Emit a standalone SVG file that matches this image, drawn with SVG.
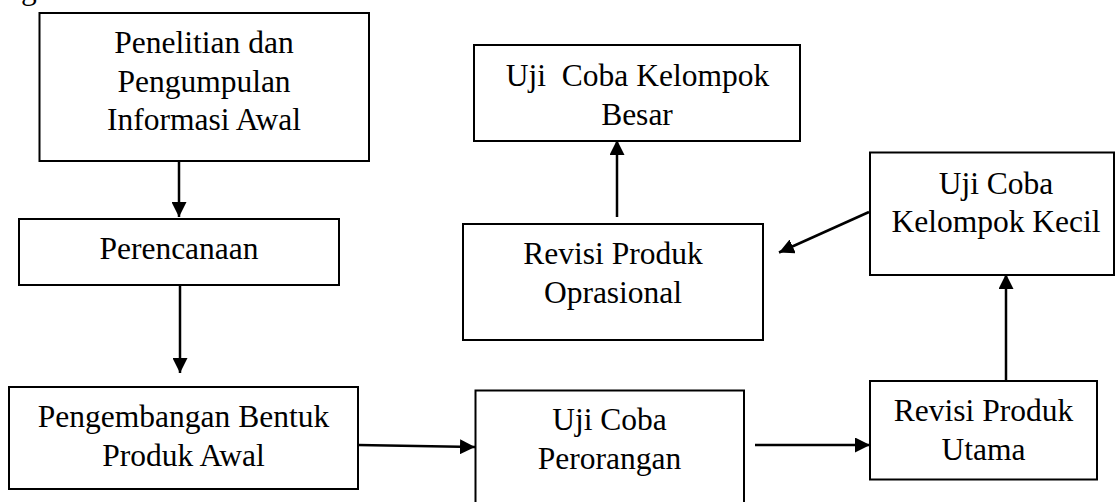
<svg xmlns="http://www.w3.org/2000/svg" width="1116" height="502" viewBox="0 0 1116 502">
<style>
  .box { fill: #ffffff; stroke: #000000; stroke-width: 2; }
  .lbl { font-family: "Liberation Serif", "Times New Roman", serif; font-size: 31.5px; fill: #000000; text-anchor: middle; }
  .frag { font-family: "Liberation Serif", "Times New Roman", serif; font-size: 31.5px; fill: #000000; }
  .conn { fill: none; stroke: #000000; stroke-width: 2.5; marker-end: url(#ah); }
</style>
<defs>
  <marker id="ah" viewBox="0 0 15 15" refX="15" refY="7.5" markerWidth="15" markerHeight="15" markerUnits="userSpaceOnUse" orient="auto">
    <path d="M0,0 L15,7.5 L0,15 Z" fill="#000000"/>
  </marker>
</defs>
<rect width="1116" height="502" fill="#ffffff"/>
<text class="frag" x="21" y="-1">g</text>

<g id="n1">
  <rect class="box" x="39.5" y="13" width="329.5" height="148"/>
  <text class="lbl" x="204" y="53">Penelitian dan</text>
  <text class="lbl" x="204" y="92">Pengumpulan</text>
  <text class="lbl" x="204" y="130">Informasi Awal</text>
</g>
<g id="n2">
  <rect class="box" x="19" y="219" width="320" height="66"/>
  <text class="lbl" x="179" y="259">Perencanaan</text>
</g>
<g id="n3">
  <rect class="box" x="9" y="387" width="349" height="102"/>
  <text class="lbl" x="183.5" y="427">Pengembangan Bentuk</text>
  <text class="lbl" x="183.5" y="466">Produk Awal</text>
</g>
<g id="n4">
  <rect class="box" x="475.5" y="390.5" width="268.5" height="125"/>
  <text class="lbl" x="609.5" y="430">Uji Coba</text>
  <text class="lbl" x="609.5" y="469">Perorangan</text>
</g>
<g id="n5">
  <rect class="box" x="870" y="381" width="227" height="98.5"/>
  <text class="lbl" x="983.5" y="421">Revisi Produk</text>
  <text class="lbl" x="983.5" y="460">Utama</text>
</g>
<g id="n6">
  <rect class="box" x="870" y="152.5" width="244" height="122.5"/>
  <text class="lbl" x="996" y="194">Uji Coba</text>
  <text class="lbl" x="996" y="232">Kelompok Kecil</text>
</g>
<g id="n7">
  <rect class="box" x="463" y="224" width="300" height="116"/>
  <text class="lbl" x="613" y="264">Revisi Produk</text>
  <text class="lbl" x="613" y="303">Oprasional</text>
</g>
<g id="n8">
  <rect class="box" x="474" y="45" width="326" height="96"/>
  <text class="lbl" x="637.5" y="86" xml:space="preserve">Uji  Coba Kelompok</text>
  <text class="lbl" x="637" y="125">Besar</text>
</g>

<g id="connectors">
  <path class="conn" d="M179,161 L179,217"/>
  <path class="conn" d="M180,284 L180,373"/>
  <path class="conn" d="M358,445 L475,447"/>
  <path class="conn" d="M755,445 L870,445"/>
  <path class="conn" d="M1006,381 L1006,274"/>
  <path class="conn" d="M869,212 L779,252.5"/>
  <path class="conn" d="M617,217 L617,140"/>
</g>
</svg>
